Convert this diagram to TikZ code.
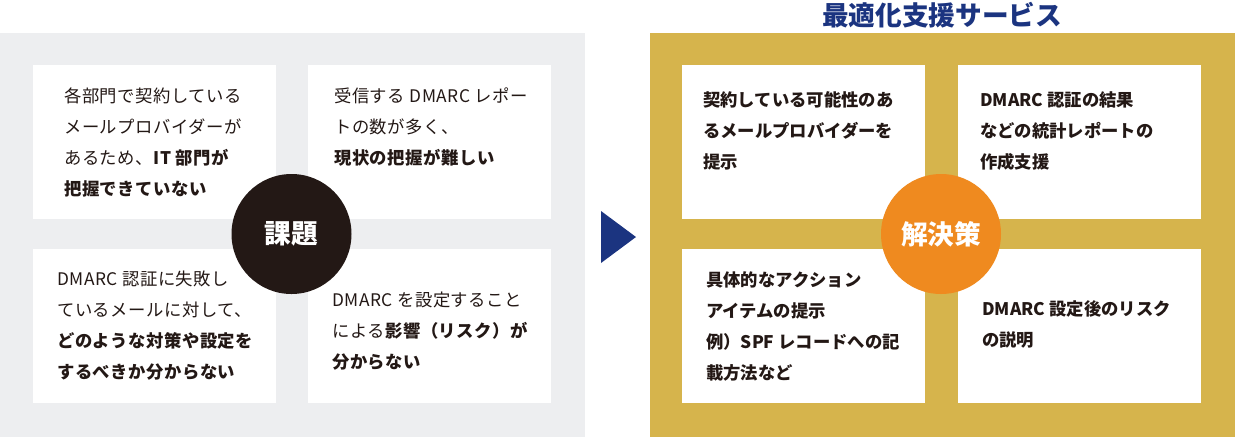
\documentclass[tikz,border=0pt]{standalone}
\usepackage{fontspec}
\setmainfont{Noto Sans CJK JP}
\usepackage{xcolor}
\definecolor{panelgray}{HTML}{EDEEF0}
\definecolor{panelgold}{HTML}{D6B44C}
\definecolor{issuedark}{HTML}{231815}
\definecolor{fixorange}{HTML}{EF8A1F}
\definecolor{titlenavy}{HTML}{1B3480}
\definecolor{inktext}{HTML}{231815}

\begin{document}
\begin{tikzpicture}[x=0.75pt, y=-0.75pt,
    card/.style={fill=white, minimum width=182.25pt, minimum height=115.5pt, inner sep=0pt},
    cardtext/.style={anchor=north west, align=left, inner sep=0pt, text=inktext,
      font=\fontsize{13}{23.25}\selectfont\addfontfeature{LetterSpace=3}},
    fixtext/.style={cardtext, font=\fontsize{13}{23.25}\selectfont\bfseries},
    badge/.style={circle, minimum size=90pt, inner sep=0pt, text=white,
      font=\fontsize{20}{24}\selectfont\bfseries}]
  \useasboundingbox (0,0) rectangle (1235,437);
  % Issues panel (grey)
  \fill[panelgray] (0,33) rectangle (585,437);
  \node[card] (issueA) at (154.5,142) {};
  \node[card] (issueB) at (429,142) {};
  \node[card] (issueC) at (154.5,325.5) {};
  \node[card] (issueD) at (429,325.5) {};
  \node[cardtext] (textA) at (64,88)
    {各部門で契約している\\メールプロバイダーが\\あるため、\textbf{IT 部門が}\\\textbf{把握できていない}};
  \node[cardtext] (textB) at (334,88)
    {受信する DMARC レポー\\トの数が多く、\\\textbf{現状の把握が難しい}};
  \node[cardtext] (textC) at (57,271)
    {DMARC 認証に失敗し\\ているメールに対して、\\\textbf{どのような対策や設定を}\\\textbf{するべきか分からない}};
  \node[cardtext] (textD) at (332,292)
    {DMARC を設定すること\\による\textbf{影響（リスク）が}\\\textbf{分からない}};
  \node[badge, fill=issuedark] (issue) at (291.5,234) {課題};
  % Arrow
  \fill[titlenavy] (601,211) -- (636,237) -- (601,263) -- cycle;
  % Solutions panel (gold)
  \node[text=titlenavy, font=\fontsize{20}{24}\selectfont\bfseries] (title) at (942,15) {最適化支援サービス};
  \fill[panelgold] (650,33) rectangle (1235,437);
  \node[card] (fixA) at (803.5,142) {};
  \node[card] (fixB) at (1079,142) {};
  \node[card] (fixC) at (803.5,325.5) {};
  \node[card] (fixD) at (1079,325.5) {};
  \node[fixtext] (textE) at (703,91)
    {契約している可能性のあ\\るメールプロバイダーを\\提示};
  \node[fixtext] (textF) at (980,91)
    {DMARC 認証の結果\\などの統計レポートの\\作成支援};
  \node[fixtext] (textG) at (706,271)
    {具体的なアクション\\アイテムの提示\\例）SPF レコードへの記\\載方法など};
  \node[fixtext] (textH) at (982,300)
    {DMARC 設定後のリスク\\の説明};
  \node[badge, fill=fixorange] (fix) at (941,234) {解決策};
\end{tikzpicture}
\end{document}
